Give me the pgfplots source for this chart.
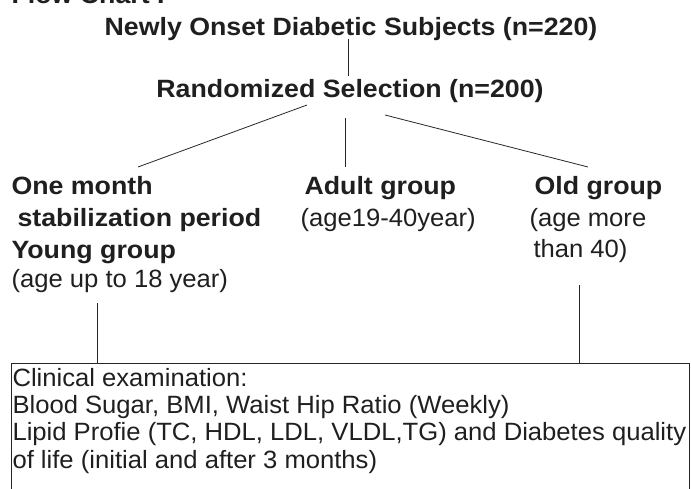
\documentclass[border=0pt]{standalone}
\usepackage{pgfplots}
\pgfplotsset{compat=1.18}
\usepackage{fontspec}
\setmainfont{Liberation Sans}
\newfontfamily\bfont{Liberation Sans Bold}[FakeStretch=1.07]
\newfontfamily\rfont{Liberation Sans}[FakeStretch=1.025]
\begin{document}
\begin{tikzpicture}
\begin{axis}[
  name=ax,
  width=691bp, height=489bp, scale only axis,
  xmin=0, xmax=691, ymin=0, ymax=489,
  hide axis, clip=false,
  every node/.style={inner sep=0pt},
]
% connector lines (pixel coordinates, y measured from bottom)
\addplot[black!85, line width=0.8pt] coordinates {(348,450) (348,413)};
\addplot[black!85, line width=0.8pt] coordinates {(307,384) (138,322)};
\addplot[black!85, line width=0.8pt] coordinates {(345,371) (345,322)};
\addplot[black!85, line width=0.8pt] coordinates {(385,374) (588,322)};
\addplot[black!85, line width=0.8pt] coordinates {(97,186) (97,126)};
\addplot[black!85, line width=0.8pt] coordinates {(579,204) (579,126)};
% box
\addplot[black!85, line width=0.8pt] coordinates {(11,-10) (11,126) (689,126) (689,-10)};

\node[anchor=base west, font=\fontsize{25bp}{30bp}\bfont, text=black!88] at (axis cs:8,485) {Flow Chart I};
\node[anchor=base, font=\fontsize{25bp}{30bp}\bfont, text=black!88] at (axis cs:351,453) {Newly Onset Diabetic Subjects (n=220)};
\node[anchor=base, font=\fontsize{25bp}{30bp}\bfont, text=black!88] at (axis cs:350,391) {Randomized Selection (n=200)};

\node[anchor=base west, font=\fontsize{25bp}{30bp}\bfont, text=black!88] at (axis cs:8,294) {One month};
\node[anchor=base west, font=\fontsize{25bp}{30bp}\bfont, text=black!88] at (axis cs:14,262) {stabilization period};
\node[anchor=base west, font=\fontsize{25bp}{30bp}\bfont, text=black!88] at (axis cs:8,230) {Young group};
\node[anchor=base west, font=\fontsize{25bp}{30bp}\rfont, text=black!88] at (axis cs:8,201) {(age up to 18 year)};

\node[anchor=base west, font=\fontsize{25bp}{30bp}\bfont, text=black!88] at (axis cs:301,294) {Adult group};
\node[anchor=base west, font=\fontsize{25bp}{30bp}\rfont, text=black!88] at (axis cs:297,262) {(age19-40year)};

\node[anchor=base west, font=\fontsize{25bp}{30bp}\bfont, text=black!88] at (axis cs:531,294) {Old group};
\node[anchor=base west, font=\fontsize{25bp}{30bp}\rfont, text=black!88] at (axis cs:526,262) {(age more};
\node[anchor=base west, font=\fontsize{25bp}{30bp}\rfont, text=black!88] at (axis cs:530,231) {than 40)};

\node[anchor=base west, font=\fontsize{25bp}{30bp}\rfont, text=black!88] at (axis cs:9,102) {Clinical examination:};
\node[anchor=base west, font=\fontsize{25bp}{30bp}\rfont, text=black!88] at (axis cs:9,75) {Blood Sugar, BMI, Waist Hip Ratio (Weekly)};
\node[anchor=base west, font=\fontsize{25bp}{30bp}\rfont, text=black!88] at (axis cs:9,48) {Lipid Profie (TC, HDL, LDL, VLDL,TG) and Diabetes quality};
\node[anchor=base west, font=\fontsize{25bp}{30bp}\rfont, text=black!88] at (axis cs:9,21) {of life (initial and after 3 months)};
\end{axis}
\pgfresetboundingbox
\path[use as bounding box] (ax.south west) rectangle (ax.north east);
\end{tikzpicture}
\end{document}
